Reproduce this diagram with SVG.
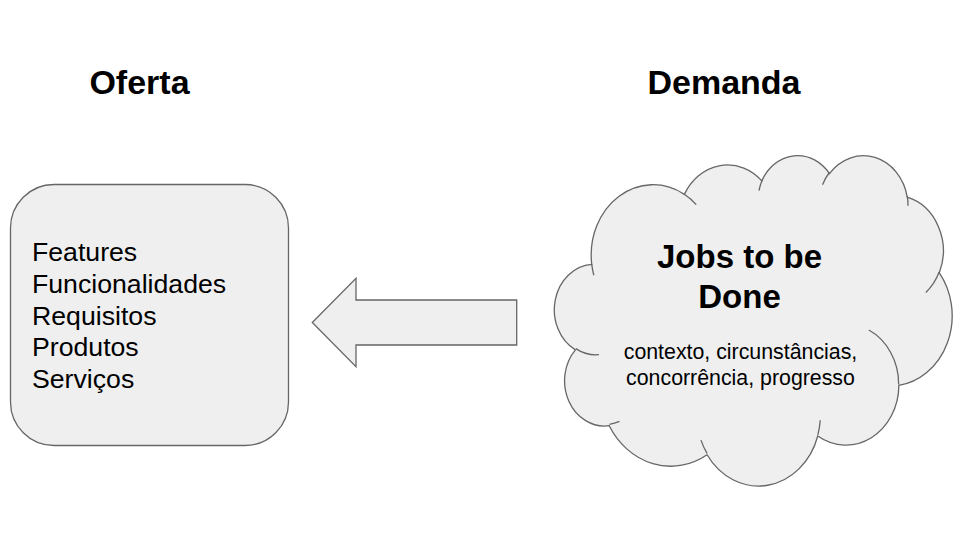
<svg xmlns="http://www.w3.org/2000/svg" width="960" height="540" viewBox="0 0 960 540">
<style>
.shape{fill:#efefef;stroke:#666666;stroke-width:1.3}
.inner{fill:none;stroke:#666666;stroke-width:1.3}
.title{font-family:"Liberation Sans",Arial,sans-serif;font-weight:bold;font-size:34px;fill:#000;text-anchor:middle}
.body{font-family:"Liberation Sans",Arial,sans-serif;font-size:26.67px;fill:#000}
.big{font-family:"Liberation Sans",Arial,sans-serif;font-weight:bold;font-size:33px;fill:#000;text-anchor:middle}
.small{font-family:"Liberation Sans",Arial,sans-serif;font-size:21.33px;fill:#000;text-anchor:middle}
</style>
<rect width="960" height="540" fill="#ffffff"/>
<g id="title-oferta"><text class="title" x="139.5" y="93.5">Oferta</text></g>
<g id="title-demanda"><text class="title" x="724" y="93.5">Demanda</text></g>
<g id="oferta">
<rect class="shape" x="10.5" y="184.5" width="278" height="261" rx="43.5" ry="43.5"/>
<text class="body" x="32" y="261">Features</text>
<text class="body" x="32" y="292.8">Funcionalidades</text>
<text class="body" x="32" y="324.6">Requisitos</text>
<text class="body" x="32" y="356.4">Produtos</text>
<text class="body" x="32" y="388.2">Serviços</text>
</g>
<g id="connectors">
<polygon class="shape" points="312.3,322.5 356,278.3 356,300 516.7,300 516.7,345 356,345 356,366.7"/>
</g>
<g id="demanda">
<path class="shape" d="M 591.75 264.44 A 61.90 70.24 0 0 1 684.38 194.36 A 48.89 55.55 0 0 1 761.85 180.83 A 40.01 45.44 0 0 1 829.47 173.56 A 44.52 50.41 0 0 1 907.25 197.22 A 48.89 55.59 0 0 1 939.33 272.77 A 62.10 70.47 0 0 1 898.87 385.46 A 53.03 60.13 0 0 1 817.76 435.99 A 61.89 70.43 0 0 1 707.07 454.72 A 70.77 80.58 0 0 1 609.21 425.72 A 39.97 45.23 0 0 1 575.37 349.88 A 39.83 45.44 0 0 1 591.75 264.44 Z"/>
<path class="inner" d="M 599.02 354.68 A 39.83 45.44 0 0 1 575.80 348.59 M 619.51 421.35 A 39.97 45.23 0 0 1 609.35 424.27 M 707.05 453.39 A 61.89 70.43 0 0 1 700.93 440.09 M 820.25 420.22 A 61.89 70.43 0 0 1 817.80 434.81 M 868.85 330.05 A 53.03 60.13 0 0 1 898.65 384.59 M 939.15 271.96 A 48.89 55.59 0 0 1 925.88 292.41 M 907.30 196.07 A 44.52 50.41 0 0 1 908.01 205.73 M 822.55 184.81 A 44.52 50.41 0 0 1 829.35 172.49 M 758.96 190.68 A 40.01 45.44 0 0 1 762.25 180.05 M 684.33 194.29 A 61.90 70.24 0 0 1 696.25 204.59 M 593.83 275.28 A 61.90 70.24 0 0 1 591.75 264.44"/>
<text class="big" x="739.5" y="268">Jobs to be</text>
<text class="big" x="739.5" y="308">Done</text>
<text class="small" x="740.5" y="359">contexto, circunstâncias,</text>
<text class="small" x="740.5" y="384.6">concorrência, progresso</text>
</g>
</svg>
